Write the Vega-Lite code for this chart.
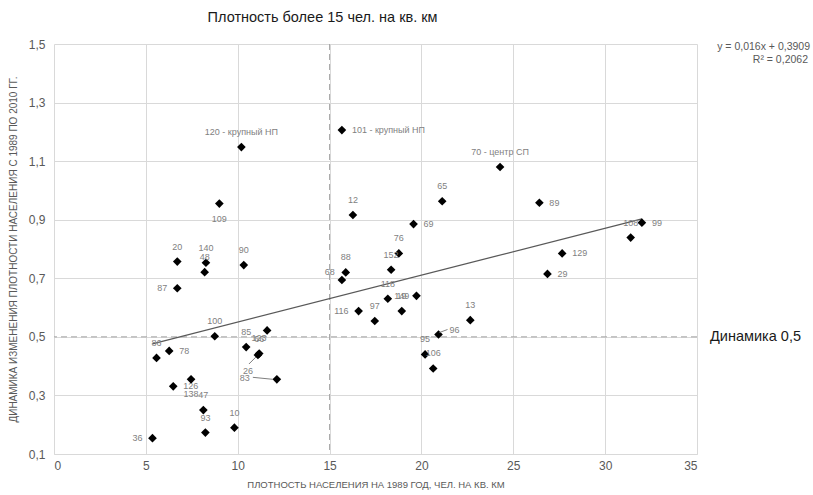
{
  "$schema": "https://vega.github.io/schema/vega-lite/v6.json",
  "width": 643,
  "height": 410,
  "autosize": {"type": "none"},
  "padding": {"left": 54, "top": 44, "right": 116, "bottom": 41},
  "background": "white",
  "config": {
    "font": "Liberation Sans",
    "view": {"stroke": null},
    "text": {"font": "Liberation Sans"},
    "axis": {
      "grid": true,
      "gridColor": "#d9d9d9",
      "gridWidth": 1,
      "ticks": false,
      "domain": false,
      "labelColor": "#595959",
      "labelFont": "Liberation Sans",
      "labelFontSize": 12,
      "titleColor": "#595959",
      "titleFont": "Liberation Sans",
      "titleFontWeight": "normal"
    }
  },
  "datasets": {
    "pts": [
      {"id": "120", "label": "120 - крупный НП", "x": 10.2, "y": 1.148},
      {"id": "101", "label": "101 - крупный НП", "x": 15.67, "y": 1.206},
      {"id": "70", "label": "70 - центр СП", "x": 24.28, "y": 1.08},
      {"id": "65", "label": "65", "x": 21.13, "y": 0.963},
      {"id": "89", "label": "89", "x": 26.42, "y": 0.958},
      {"id": "12", "label": "12", "x": 16.27, "y": 0.916},
      {"id": "69", "label": "69", "x": 19.57, "y": 0.885},
      {"id": "109", "label": "109", "x": 9.0, "y": 0.955},
      {"id": "20", "label": "20", "x": 6.71, "y": 0.757},
      {"id": "140", "label": "140", "x": 8.27, "y": 0.753},
      {"id": "48", "label": "48", "x": 8.2, "y": 0.721},
      {"id": "90", "label": "90", "x": 10.33, "y": 0.745},
      {"id": "87", "label": "87", "x": 6.71, "y": 0.666},
      {"id": "88", "label": "88", "x": 15.88, "y": 0.72},
      {"id": "68", "label": "68", "x": 15.67, "y": 0.694},
      {"id": "76", "label": "76", "x": 18.77, "y": 0.785},
      {"id": "152", "label": "152", "x": 18.35, "y": 0.729},
      {"id": "118", "label": "118", "x": 18.17, "y": 0.63},
      {"id": "149", "label": "149", "x": 18.93, "y": 0.588},
      {"id": "19", "label": "19", "x": 19.73, "y": 0.64},
      {"id": "116", "label": "116", "x": 16.58, "y": 0.588},
      {"id": "97", "label": "97", "x": 17.46, "y": 0.554},
      {"id": "13", "label": "13", "x": 22.66, "y": 0.557},
      {"id": "96", "label": "96", "x": 20.93, "y": 0.508},
      {"id": "95", "label": "95", "x": 20.2, "y": 0.44},
      {"id": "106", "label": "106", "x": 20.64, "y": 0.392},
      {"id": "108", "label": "108", "x": 31.39, "y": 0.839},
      {"id": "99", "label": "99", "x": 32.0, "y": 0.89},
      {"id": "129", "label": "129", "x": 27.66, "y": 0.785},
      {"id": "29", "label": "29", "x": 26.86, "y": 0.715},
      {"id": "100", "label": "100", "x": 8.75, "y": 0.502},
      {"id": "85", "label": "85", "x": 10.46, "y": 0.465},
      {"id": "123", "label": "123", "x": 11.6, "y": 0.522},
      {"id": "66", "label": "66", "x": 11.17, "y": 0.443},
      {"id": "26", "label": "26", "x": 11.1, "y": 0.438},
      {"id": "83", "label": "83", "x": 12.13, "y": 0.355},
      {"id": "86", "label": "86", "x": 5.58, "y": 0.428},
      {"id": "78", "label": "78", "x": 6.27, "y": 0.452},
      {"id": "126", "label": "126", "x": 6.49, "y": 0.331},
      {"id": "138", "label": "138", "x": 7.46, "y": 0.355},
      {"id": "47", "label": "47", "x": 8.13, "y": 0.25},
      {"id": "93", "label": "93", "x": 8.24, "y": 0.173},
      {"id": "10", "label": "10", "x": 9.82, "y": 0.19},
      {"id": "36", "label": "36", "x": 5.36, "y": 0.154}
    ],
    "notes": [
      {"t": "Плотность более 15 чел. на кв. км", "x": 15, "y": 1.5, "kind": "title"},
      {"t": "y = 0,016x + 0,3909", "x": 35, "y": 1.5, "kind": "eq1"},
      {"t": "R² = 0,2062", "x": 35, "y": 1.5, "kind": "eq2"},
      {"t": "Динамика 0,5", "x": 35, "y": 0.5, "kind": "dyn"}
    ],
    "refs": [
      {"x": 15, "y": 0.5}
    ]
  },
  "layer": [
    {
      "data": {"name": "pts"},
      "mark": {"type": "point", "opacity": 0},
      "encoding": {
        "x": {
          "field": "x",
          "type": "quantitative",
          "scale": {"domain": [0, 35], "nice": false, "zero": false},
          "axis": {
            "values": [0, 5, 10, 15, 20, 25, 30, 35],
            "title": "ПЛОТНОСТЬ НАСЕЛЕНИЯ НА 1989 ГОД, ЧЕЛ. НА КВ. КМ",
            "titleFontSize": 9.5,
            "labelPadding": 6,
            "titlePadding": 8,
            "domain": true,
            "domainColor": "#d9d9d9"
          }
        },
        "y": {
          "field": "y",
          "type": "quantitative",
          "scale": {"domain": [0.1, 1.5], "nice": false, "zero": false},
          "axis": {
            "values": [0.1, 0.3, 0.5, 0.7, 0.9, 1.1, 1.3, 1.5],
            "labelExpr": "replace(format(datum.value, '.1f'), '.', ',')",
            "title": "ДИНАМИКА ИЗМЕНЕНИЯ ПЛОТНОСТИ НАСЕЛЕНИЯ С 1989 ПО 2010 ГГ.",
            "titleFontSize": 10,
            "labelPadding": 9,
            "titlePadding": 10
          }
        }
      }
    },
    {
      "data": {"name": "refs"},
      "mark": {"type": "rule", "color": "#a6a6a6", "strokeDash": [6, 4], "strokeWidth": 1},
      "encoding": {"x": {"field": "x", "type": "quantitative"}}
    },
    {
      "data": {"name": "refs"},
      "mark": {"type": "rule", "color": "#a6a6a6", "strokeDash": [6, 4], "strokeWidth": 1},
      "encoding": {"y": {"field": "y", "type": "quantitative"}}
    },
    {
      "data": {"name": "pts"},
      "transform": [{"regression": "y", "on": "x", "method": "linear"}],
      "mark": {"type": "line", "color": "#595959", "strokeWidth": 1.25},
      "encoding": {"x": {"field": "x", "type": "quantitative"}, "y": {"field": "y", "type": "quantitative"}}
    },
    {
      "data": {"name": "pts"},
      "mark": {"type": "point", "shape": "diamond", "filled": true, "color": "#000000", "size": 75, "opacity": 1},
      "encoding": {"x": {"field": "x", "type": "quantitative"}, "y": {"field": "y", "type": "quantitative"}}
    },
    {
      "data": {"name": "pts"},
      "transform": [{"filter": {"field": "id", "oneOf": ["120", "70", "65", "12", "20", "140", "48", "90", "88", "76", "152", "118", "149", "97", "13", "95", "106", "108", "100", "85", "66", "86", "47", "93", "10"]}}],
      "mark": {"type": "text", "dy": -15, "align": "center", "baseline": "middle", "fontSize": 9, "color": "#7f7f7f"},
      "encoding": {"x": {"field": "x", "type": "quantitative"}, "y": {"field": "y", "type": "quantitative"}, "text": {"field": "label"}}
    },
    {
      "data": {"name": "pts"},
      "transform": [{"filter": {"field": "id", "oneOf": ["101", "89", "69", "99", "129", "29", "78", "126"]}}],
      "mark": {"type": "text", "dx": 10, "align": "left", "baseline": "middle", "fontSize": 9, "color": "#7f7f7f"},
      "encoding": {"x": {"field": "x", "type": "quantitative"}, "y": {"field": "y", "type": "quantitative"}, "text": {"field": "label"}}
    },
    {
      "data": {"name": "pts"},
      "transform": [{"filter": {"field": "id", "oneOf": ["87", "116", "19", "36"]}}],
      "mark": {"type": "text", "dx": -10, "align": "right", "baseline": "middle", "fontSize": 9, "color": "#7f7f7f"},
      "encoding": {"x": {"field": "x", "type": "quantitative"}, "y": {"field": "y", "type": "quantitative"}, "text": {"field": "label"}}
    },
    {
      "data": {"name": "pts"},
      "transform": [{"filter": {"field": "id", "oneOf": ["109", "138"]}}],
      "mark": {"type": "text", "dy": 15, "align": "center", "baseline": "middle", "fontSize": 9, "color": "#7f7f7f"},
      "encoding": {"x": {"field": "x", "type": "quantitative"}, "y": {"field": "y", "type": "quantitative"}, "text": {"field": "label"}}
    },
    {
      "data": {"name": "pts"},
      "transform": [{"filter": {"field": "id", "equal": "68"}}],
      "mark": {"type": "text", "dx": -7, "dy": -8, "align": "right", "baseline": "middle", "fontSize": 9, "color": "#7f7f7f"},
      "encoding": {"x": {"field": "x", "type": "quantitative"}, "y": {"field": "y", "type": "quantitative"}, "text": {"field": "label"}}
    },
    {
      "data": {"name": "pts"},
      "transform": [{"filter": {"field": "id", "equal": "123"}}],
      "mark": {"type": "text", "dx": -8, "dy": 8, "align": "center", "baseline": "middle", "fontSize": 9, "color": "#7f7f7f"},
      "encoding": {"x": {"field": "x", "type": "quantitative"}, "y": {"field": "y", "type": "quantitative"}, "text": {"field": "label"}}
    },
    {
      "data": {"name": "pts"},
      "transform": [{"filter": {"field": "id", "equal": "26"}}],
      "mark": {"type": "text", "dx": -10, "dy": 16, "align": "center", "baseline": "middle", "fontSize": 9, "color": "#7f7f7f"},
      "encoding": {"x": {"field": "x", "type": "quantitative"}, "y": {"field": "y", "type": "quantitative"}, "text": {"field": "label"}}
    },
    {
      "data": {"name": "pts"},
      "transform": [{"filter": {"field": "id", "equal": "83"}}],
      "mark": {"type": "text", "dx": -27, "dy": -1, "align": "right", "baseline": "middle", "fontSize": 9, "color": "#7f7f7f"},
      "encoding": {"x": {"field": "x", "type": "quantitative"}, "y": {"field": "y", "type": "quantitative"}, "text": {"field": "label"}}
    },
    {
      "data": {"name": "pts"},
      "transform": [{"filter": {"field": "id", "equal": "96"}}],
      "mark": {"type": "text", "dx": 11, "dy": -5, "align": "left", "baseline": "middle", "fontSize": 9, "color": "#7f7f7f"},
      "encoding": {"x": {"field": "x", "type": "quantitative"}, "y": {"field": "y", "type": "quantitative"}, "text": {"field": "label"}}
    },
    {
      "data": {"name": "pts"},
      "transform": [{"filter": {"field": "id", "equal": "83"}}],
      "mark": {"type": "rule", "color": "#7f7f7f", "strokeWidth": 1, "xOffset": -24, "x2Offset": -4, "yOffset": -2, "y2Offset": 0},
      "encoding": {"x": {"field": "x", "type": "quantitative"}, "y": {"field": "y", "type": "quantitative"}, "x2": {"field": "x"}, "y2": {"field": "y"}}
    },
    {
      "data": {"name": "pts"},
      "transform": [{"filter": {"field": "id", "equal": "26"}}],
      "mark": {"type": "rule", "color": "#7f7f7f", "strokeWidth": 1, "xOffset": -9, "yOffset": 9, "x2Offset": -2, "y2Offset": 2},
      "encoding": {"x": {"field": "x", "type": "quantitative"}, "y": {"field": "y", "type": "quantitative"}, "x2": {"field": "x"}, "y2": {"field": "y"}}
    },
    {
      "data": {"name": "pts"},
      "transform": [{"filter": {"field": "id", "equal": "96"}}],
      "mark": {"type": "rule", "color": "#7f7f7f", "strokeWidth": 1, "xOffset": 1, "yOffset": -2, "x2Offset": 9, "y2Offset": -5},
      "encoding": {"x": {"field": "x", "type": "quantitative"}, "y": {"field": "y", "type": "quantitative"}, "x2": {"field": "x"}, "y2": {"field": "y"}}
    },
    {
      "data": {"name": "notes"},
      "transform": [{"filter": {"field": "kind", "equal": "title"}}],
      "mark": {"type": "text", "dx": -7, "dy": -26, "align": "center", "baseline": "middle", "fontSize": 14.5, "color": "#1a1a1a"},
      "encoding": {"x": {"field": "x", "type": "quantitative"}, "y": {"field": "y", "type": "quantitative"}, "text": {"field": "t"}}
    },
    {
      "data": {"name": "notes"},
      "transform": [{"filter": {"field": "kind", "equal": "eq1"}}],
      "mark": {"type": "text", "dx": 113, "dy": 3, "align": "right", "baseline": "middle", "fontSize": 10.5, "color": "#595959"},
      "encoding": {"x": {"field": "x", "type": "quantitative"}, "y": {"field": "y", "type": "quantitative"}, "text": {"field": "t"}}
    },
    {
      "data": {"name": "notes"},
      "transform": [{"filter": {"field": "kind", "equal": "eq2"}}],
      "mark": {"type": "text", "dx": 111, "dy": 16, "align": "right", "baseline": "middle", "fontSize": 10.5, "color": "#595959"},
      "encoding": {"x": {"field": "x", "type": "quantitative"}, "y": {"field": "y", "type": "quantitative"}, "text": {"field": "t"}}
    },
    {
      "data": {"name": "notes"},
      "transform": [{"filter": {"field": "kind", "equal": "dyn"}}],
      "mark": {"type": "text", "dx": 13, "dy": 0, "align": "left", "baseline": "middle", "fontSize": 14.5, "color": "#1a1a1a"},
      "encoding": {"x": {"field": "x", "type": "quantitative"}, "y": {"field": "y", "type": "quantitative"}, "text": {"field": "t"}}
    }
  ]
}
